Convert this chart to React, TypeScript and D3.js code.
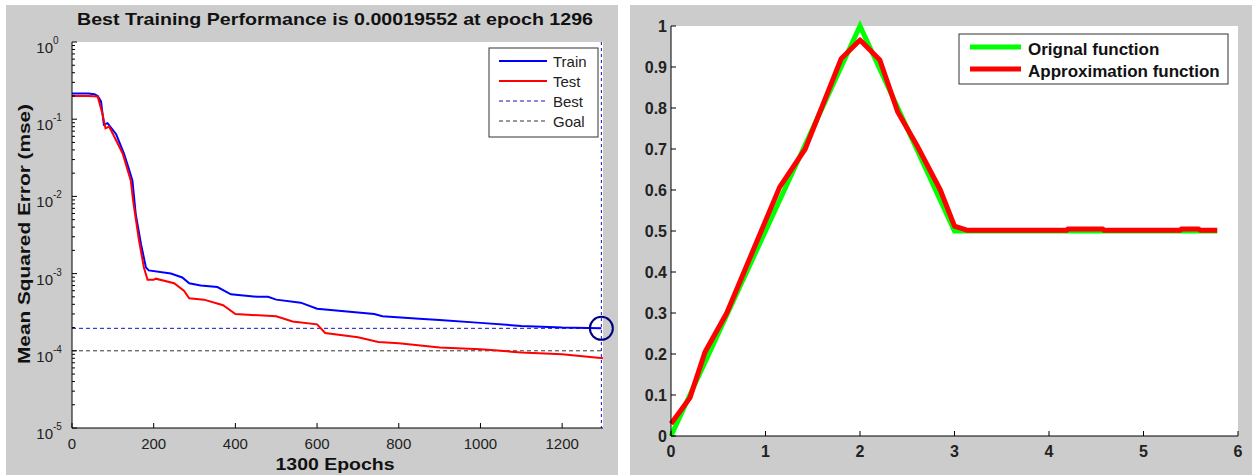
import React from "react";
import * as d3 from "d3";

// ---------- Left chart data ----------
const trainEpochs = [0, 40, 55, 63, 71, 78, 87, 108, 127, 139, 148, 156, 169, 181, 188, 242, 270, 287, 315, 356, 389, 454, 480, 500, 560, 600, 680, 740, 760, 850, 900, 1000, 1100, 1200, 1296];
const trainMse = [0.215, 0.215, 0.21, 0.2, 0.17, 0.085, 0.089, 0.064, 0.036, 0.023, 0.016, 0.0059, 0.0024, 0.0012, 0.0011, 0.001, 0.00089, 0.00075, 0.0007, 0.00067, 0.00054, 0.0005, 0.0005, 0.00046, 0.00042, 0.00035, 0.00032, 0.0003, 0.00028, 0.00026, 0.00025, 0.00023, 0.00021, 0.0002, 0.000196];
const testEpochs = [0, 40, 55, 63, 75, 82, 91, 103, 124, 144, 150, 164, 176, 185, 200, 205, 250, 274, 287, 323, 370, 400, 500, 540, 600, 620, 700, 750, 800, 900, 1000, 1050, 1100, 1200, 1300];
const testMse = [0.2, 0.2, 0.198, 0.196, 0.115, 0.076, 0.08, 0.06, 0.036, 0.016, 0.0085, 0.0027, 0.0012, 0.00083, 0.00083, 0.00086, 0.00075, 0.0006, 0.00048, 0.00046, 0.00039, 0.0003, 0.00028, 0.00024, 0.00022, 0.00017, 0.00015, 0.00013, 0.000125, 0.00011, 0.000105, 0.0001, 0.000095, 0.00009, 0.00008];
const bestEpoch = 1296;
const bestPerf = 0.00019552;
const goalPerf = 0.0001;
const leftXTicks = [0, 200, 400, 600, 800, 1000, 1200];
const leftYExponents = [0, -1, -2, -3, -4, -5];
const leftLegend = ["Train", "Test", "Best", "Goal"];

// ---------- Right chart data ----------
const origX = [0, 2, 3, 5.78];
const origY = [0, 1, 0.5, 0.5];
const approxX = [0, 0.2, 0.36, 0.59, 1.15, 1.42, 1.8, 2.0, 2.21, 2.4, 2.6, 2.85, 3.0, 3.13, 4.19, 4.2, 4.57, 4.58, 5.39, 5.4, 5.58, 5.6, 5.78];
const approxY = [0.03, 0.093, 0.205, 0.3, 0.607, 0.70, 0.92, 0.966, 0.917, 0.79, 0.71, 0.6, 0.512, 0.502, 0.502, 0.505, 0.505, 0.502, 0.502, 0.505, 0.505, 0.502, 0.502];
const rightXTicks = [0, 1, 2, 3, 4, 5, 6];
const rightYTicks = [0, 0.1, 0.2, 0.3, 0.4, 0.5, 0.6, 0.7, 0.8, 0.9, 1];
const rightLegend = ["Orignal function", "Approximation function"];

const FONT = "'Liberation Sans', Arial, Helvetica, sans-serif";
const GRAY = "#cccccc";

export default function App() {
  // Left scales
  const lx = d3.scaleLinear().domain([0, 1300]).range([72, 603]);
  const ly = d3.scaleLog().domain([1e-5, 1]).range([428, 42]);
  const lline = d3.line<[number, number]>().x((d) => lx(d[0])).y((d) => ly(d[1]));
  const trainPts = trainEpochs.map((e, i) => [e, trainMse[i]] as [number, number]);
  const testPts = testEpochs.map((e, i) => [e, testMse[i]] as [number, number]);

  const minorTicks: number[] = [];
  for (let e = -5; e < 0; e++) {
    for (let m = 2; m <= 9; m++) minorTicks.push(m * Math.pow(10, e));
  }

  // Right scales
  const rx = d3.scaleLinear().domain([0, 6]).range([671, 1238]);
  const ry = d3.scaleLinear().domain([0, 1]).range([436, 26]);
  const rline = d3.line<[number, number]>().x((d) => rx(d[0])).y((d) => ry(d[1]));
  const origPts = origX.map((x, i) => [x, origY[i]] as [number, number]);
  const approxPts = approxX.map((x, i) => [x, approxY[i]] as [number, number]);

  const [lx0, lx1] = lx.range();
  const [ly0, ly1] = ly.range();
  const [rx0, rx1] = rx.range();
  const [ry0, ry1] = ry.range();

  return (
    <svg width={1252} height={475} style={{ position: "absolute", left: 0, top: 0, background: "#fff" }} fontFamily={FONT}>
      {/* Left panel */}
      <rect x={6} y={5} width={612} height={470} fill={GRAY} />
      <rect x={lx0} y={ly1} width={lx1 - lx0} height={ly0 - ly1} fill="#fff" />
      <text x={335} y={25} textAnchor="middle" fontSize={17} fontWeight="bold" fill="#111" textLength={516} lengthAdjust="spacingAndGlyphs">
        Best Training Performance is 0.00019552 at epoch 1296
      </text>
      {/* goal and best lines */}
      <line x1={lx0} x2={lx(1300)} y1={ly(goalPerf)} y2={ly(goalPerf)} stroke="#333" strokeDasharray="4,3" strokeWidth={1} />
      <line x1={lx0} x2={lx(bestEpoch)} y1={ly(bestPerf)} y2={ly(bestPerf)} stroke="#1010c0" strokeDasharray="4,3" strokeWidth={1} />
      <line x1={lx(bestEpoch)} x2={lx(bestEpoch)} y1={ly1} y2={ly0} stroke="#1010c0" strokeDasharray="3,3" strokeWidth={1} />
      {/* curves */}
      <path d={lline(trainPts) || ""} fill="none" stroke="#0000ff" strokeWidth={2} />
      <path d={lline(testPts) || ""} fill="none" stroke="#ff0000" strokeWidth={2} />
      <circle cx={lx(bestEpoch)} cy={ly(bestPerf)} r={11.5} fill="none" stroke="#000080" strokeWidth={2} />
      {/* axes */}
      <line x1={lx0} x2={lx0} y1={ly1} y2={ly0} stroke="#000" />
      <line x1={lx0} x2={lx1} y1={ly0} y2={ly0} stroke="#000" />
      {leftXTicks.map((t) => (
        <g key={"lxt" + t}>
          <line x1={lx(t)} x2={lx(t)} y1={ly0} y2={ly0 - 5} stroke="#000" />
          <text x={lx(t)} y={449} textAnchor="middle" fontSize={15} fill="#222">{t}</text>
        </g>
      ))}
      {leftYExponents.map((e) => (
        <g key={"lyt" + e}>
          <line x1={lx0} x2={lx0 + 5} y1={ly(Math.pow(10, e))} y2={ly(Math.pow(10, e))} stroke="#000" />
          <text x={53} y={ly(Math.pow(10, e)) + 11} textAnchor="end" fontSize={15} fill="#222">10</text>
          <text x={53} y={ly(Math.pow(10, e)) + 2} textAnchor="start" fontSize={10} fill="#222">{e === 0 ? "0" : "-" + Math.abs(e)}</text>
        </g>
      ))}
      {minorTicks.map((v, i) => (
        <line key={"mn" + i} x1={lx0} x2={lx0 + 3} y1={ly(v)} y2={ly(v)} stroke="#000" />
      ))}
      <text x={335} y={470} textAnchor="middle" fontSize={17} fontWeight="bold" fill="#111" textLength={119} lengthAdjust="spacingAndGlyphs">1300 Epochs</text>
      <text transform="translate(30,234) rotate(-90)" textAnchor="middle" fontSize={17} fontWeight="bold" fill="#111" textLength={260} lengthAdjust="spacingAndGlyphs">
        Mean Squared Error  (mse)
      </text>
      {/* left legend */}
      <rect x={489} y={48} width={109} height={89} fill="#fff" stroke="#333" strokeWidth={1} />
      {leftLegend.map((name, i) => {
        const y = 61 + i * 20;
        const styles = [
          { stroke: "#0000ff", dash: undefined, w: 2 },
          { stroke: "#ff0000", dash: undefined, w: 2 },
          { stroke: "#1010c0", dash: "4,3", w: 1 },
          { stroke: "#333", dash: "4,3", w: 1 },
        ][i];
        return (
          <g key={name}>
            <line x1={499} x2={547} y1={y} y2={y} stroke={styles.stroke} strokeWidth={styles.w} strokeDasharray={styles.dash} />
            <text x={553} y={y + 6} fontSize={15} fill="#222">{name}</text>
          </g>
        );
      })}

      {/* Right panel */}
      <rect x={630} y={5} width={622} height={470} fill={GRAY} />
      <rect x={rx0} y={ry1} width={rx1 - rx0} height={ry0 - ry1} fill="#fff" />
      <path d={rline(origPts) || ""} fill="none" stroke="#00ff00" strokeWidth={5} strokeLinejoin="miter" />
      <path d={rline(approxPts) || ""} fill="none" stroke="#ff0000" strokeWidth={5} strokeLinejoin="round" />
      <line x1={rx0} x2={rx0} y1={ry1} y2={ry0} stroke="#000" />
      <line x1={rx0} x2={rx1} y1={ry0} y2={ry0} stroke="#000" />
      {rightXTicks.map((t) => (
        <g key={"rxt" + t}>
          <line x1={rx(t)} x2={rx(t)} y1={ry0} y2={ry0 - 5} stroke="#000" />
          <text x={rx(t)} y={457} textAnchor="middle" fontSize={16} fontWeight="bold" fill="#222">{t}</text>
        </g>
      ))}
      {rightYTicks.map((t) => (
        <g key={"ryt" + t}>
          <line x1={rx0} x2={rx0 + 5} y1={ry(t)} y2={ry(t)} stroke="#000" />
          <text x={rx0 - 4} y={ry(t) + 6} textAnchor="end" fontSize={16} fontWeight="bold" fill="#222">{t}</text>
        </g>
      ))}
      <rect x={959} y={34} width={269} height={50} fill="#fff" stroke="#333" strokeWidth={1} />
      {rightLegend.map((name, i) => {
        const y = 47 + i * 22;
        return (
          <g key={name}>
            <line x1={970} x2={1021} y1={y} y2={y} stroke={i === 0 ? "#00ff00" : "#ff0000"} strokeWidth={5} />
            <text x={1028} y={y + 8} fontSize={17} fontWeight="bold" fill="#111">{name}</text>
          </g>
        );
      })}
    </svg>
  );
}
